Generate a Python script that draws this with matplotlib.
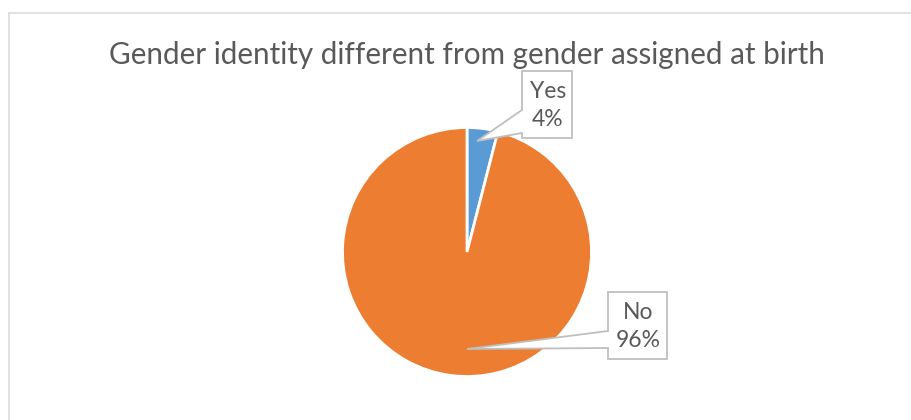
import matplotlib.pyplot as plt
from matplotlib.patches import Polygon
from matplotlib.lines import Line2D

# data
labels = ['Yes', 'No']
shares = [4, 96]
colors = ['#5B9BD5', '#ED7D31']
title = 'Gender identity different from gender assigned at birth'

# layout, pixel units (y up), figure is 911 x 420
W, H = 911, 420
pie_center = (467, 168)
pie_r = 124.5
# callout boxes: (left, bottom, right, top), tip of the pointer, tail base y on box left edge
callouts = [
    dict(box=(522, 282, 572, 349), tip=(477, 279), base=(287, 310)),
    dict(box=(608, 61, 667, 128), tip=(467, 71), base=(72, 89)),
]

txt_col = '#595959'
edge_col = '#BFBFBF'

plt.rcParams['font.family'] = ['Lato', 'DejaVu Sans']

fig = plt.figure(figsize=(W / 100, H / 100), dpi=100)
ax = fig.add_axes([0, 0, 1, 1])
ax.pie(shares, colors=colors, startangle=90, counterclock=False,
       center=pie_center, radius=pie_r,
       wedgeprops=dict(edgecolor='white', linewidth=2))
ax.set_xlim(0, W)
ax.set_ylim(0, H)
ax.set_axis_off()

# chart border (only left and top visible in the crop)
fig.add_artist(Line2D([8.5 / W, 8.5 / W], [0, 1 - 12.5 / H], transform=fig.transFigure,
                      color='#D9D9D9', lw=1.1))
fig.add_artist(Line2D([8.5 / W, 1], [1 - 12.5 / H, 1 - 12.5 / H], transform=fig.transFigure,
                      color='#D9D9D9', lw=1.1))

ax.text(467, H - 64, title, ha='center', va='baseline', fontsize=21.3, color=txt_col)

for lab, val, c in zip(labels, shares, callouts):
    x0, y0, x1, y1 = c['box']
    tx, ty = c['tip']
    b_lo, b_hi = c['base']
    pts = [(x0, y0), (x0, b_lo), (tx, ty), (x0, b_hi), (x0, y1), (x1, y1), (x1, y0)]
    ax.add_patch(Polygon(pts, closed=True, facecolor='white', edgecolor=edge_col,
                         lw=1.3, joinstyle='miter', zorder=5))
    ax.text((x0 + x1) / 2 + 1, (y0 + y1) / 2 - 1, f'{lab}\n{val}%', ha='center', va='center',
            fontsize=16.5, color=txt_col, linespacing=1.4, zorder=6)

fig.savefig('out.png', dpi=100)
